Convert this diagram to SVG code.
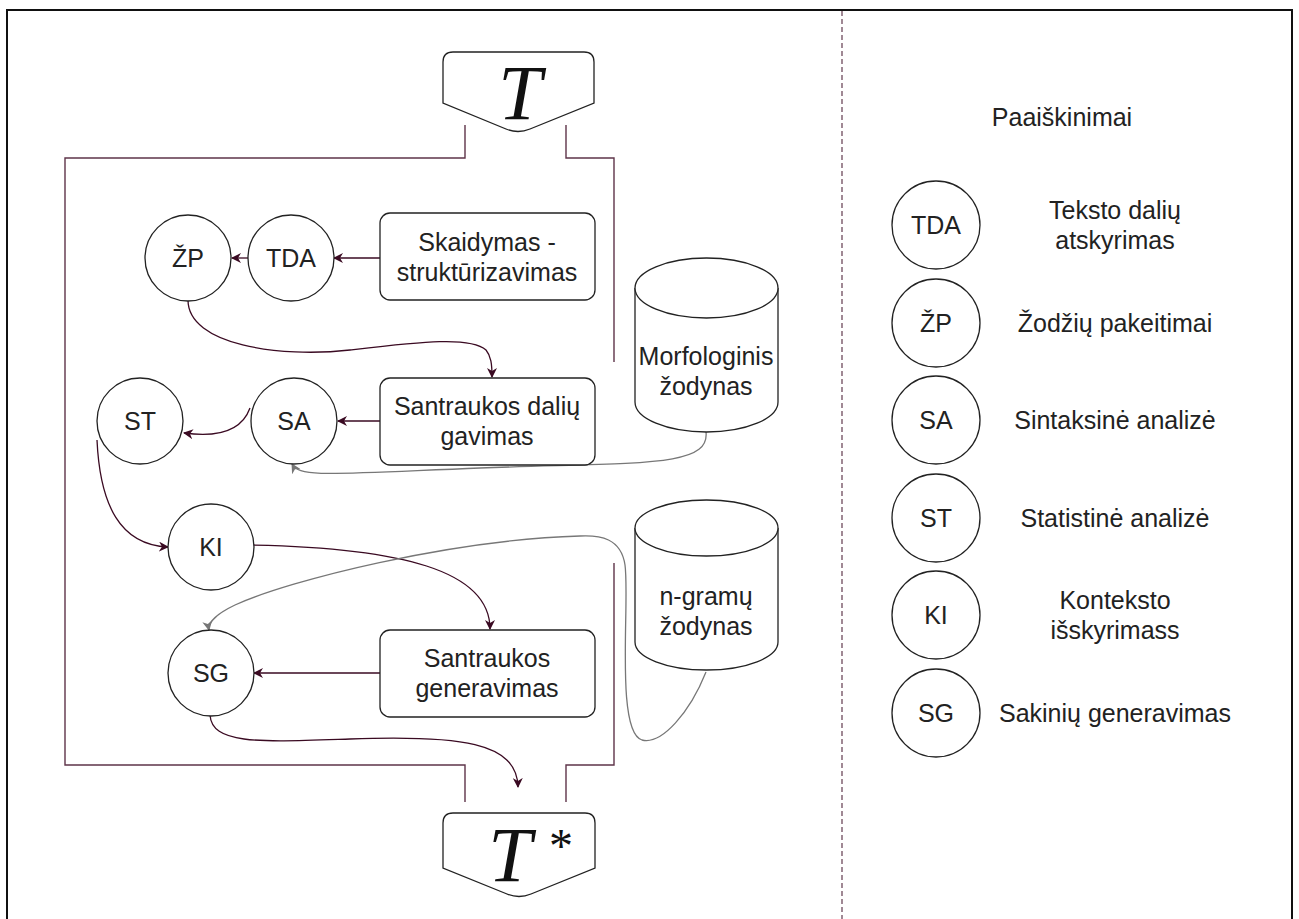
<svg xmlns="http://www.w3.org/2000/svg" width="1299" height="919" viewBox="0 0 1299 919">
  <style>
    .txt { font-family: "Liberation Sans", Arial, sans-serif; font-size: 25px; fill: #222; text-anchor: middle; dominant-baseline: central; }
    .math { font-family: "Liberation Serif", "Times New Roman", serif; font-style: italic; font-size: 78px; fill: #111; text-anchor: middle; }
    .star { font-family: "Liberation Serif", "Times New Roman", serif; font-size: 48px; fill: #111; text-anchor: middle; }
    .node { fill: #fff; stroke: #222; stroke-width: 1.3; }
    .frame { fill: none; stroke: #5e3449; stroke-width: 1.4; }
    .flow { fill: none; stroke: #3a0a22; stroke-width: 1.3; }
    .data { fill: none; stroke: #777; stroke-width: 1.3; }
  </style>
  <defs>
    <marker id="arrDark" viewBox="0 0 10 10" refX="9" refY="5" markerWidth="10" markerHeight="10" markerUnits="userSpaceOnUse" orient="auto">
      <path d="M0,0 L10,5 L0,10 L3,5 z" fill="#3a0a22"/>
    </marker>
    <marker id="arrGray" viewBox="0 0 10 10" refX="9" refY="5" markerWidth="10" markerHeight="10" markerUnits="userSpaceOnUse" orient="auto">
      <path d="M0,0 L10,5 L0,10 L3,5 z" fill="#777"/>
    </marker>
  </defs>

  <!-- page frame and legend divider -->
  <g id="page">
    <path d="M7,930 V10 H1292 V930" fill="none" stroke="#111" stroke-width="2"/>
    <line x1="842" y1="11" x2="842" y2="919" stroke="#6e4a5c" stroke-width="1.3" stroke-dasharray="5,3"/>
  </g>

  <!-- process boundary -->
  <g id="boundary">
    <path class="frame" d="M465,125 V158 H65 V765 H465 V802"/>
    <path class="frame" d="M566,125 V158 H614 V362"/>
    <path class="frame" d="M614,563 V765 H566 V802"/>
  </g>

  <!-- connectors -->
  <g id="connectors">
    <line class="flow" x1="380" y1="258" x2="334" y2="258" marker-end="url(#arrDark)"/>
    <line class="flow" x1="248" y1="258" x2="232" y2="258" marker-end="url(#arrDark)"/>
    <path class="flow" d="M188,300 C188,345 280,358 350,350 C420,342 470,336 486,350 C491,356 492,364 492,377" marker-end="url(#arrDark)"/>
    <line class="flow" x1="380" y1="421" x2="338" y2="421" marker-end="url(#arrDark)"/>
    <path class="flow" d="M250,408 C242,430 220,438 184,433" marker-end="url(#arrDark)"/>
    <path class="flow" d="M97,440 C100,505 120,545 168,547" marker-end="url(#arrDark)"/>
    <path class="flow" d="M252,545 C400,548 490,570 490,629" marker-end="url(#arrDark)"/>
    <line class="flow" x1="380" y1="673" x2="254" y2="673" marker-end="url(#arrDark)"/>
    <path class="flow" d="M210,715 C212,745 260,742 350,739 C460,735 517,742 518,787" marker-end="url(#arrDark)"/>
    <path class="data" d="M706,432 C710,468 640,462 480,468 C330,474 300,478 292,464" marker-end="url(#arrGray)"/>
    <path class="data" d="M706,672 C690,712 662,745 642,740 C615,732 630,600 625,565 C621,538 600,535 580,536 C450,540 290,580 235,605 C212,616 208,625 209,630" marker-end="url(#arrGray)"/>
  </g>

  <!-- input / output documents -->
  <g id="T">
    <path class="node" d="M453,52 H584 Q594,52 594,62 V103 L530,129 Q518,134 506,129 L443,103 V62 Q443,52 453,52 Z"/>
    <text class="math" x="520" y="119">T</text>
  </g>
  <g id="Tstar">
    <path class="node" d="M453,813 H585 Q595,813 595,823 V868 L531,894 Q519,899 507,894 L443,868 V823 Q443,813 453,813 Z"/>
    <text class="math" x="510" y="881">T</text>
    <text class="star" x="561" y="862">*</text>
  </g>

  <!-- process steps -->
  <g id="ZP"><circle class="node" cx="188" cy="258" r="43"/><text class="txt" x="188" y="258">ŽP</text></g>
  <g id="TDA"><circle class="node" cx="291" cy="258" r="43"/><text class="txt" x="291" y="258">TDA</text></g>
  <g id="skaidymas">
    <rect class="node" x="380" y="213" width="215" height="87" rx="10"/>
    <text class="txt" x="487" y="242">Skaidymas -</text>
    <text class="txt" x="487" y="272">struktūrizavimas</text>
  </g>
  <g id="santraukos-daliu">
    <rect class="node" x="380" y="378" width="215" height="87" rx="10"/>
    <text class="txt" x="487" y="406">Santraukos dalių</text>
    <text class="txt" x="487" y="436">gavimas</text>
  </g>
  <g id="SA"><circle class="node" cx="294" cy="421" r="43"/><text class="txt" x="294" y="421">SA</text></g>
  <g id="ST"><circle class="node" cx="140" cy="421" r="43"/><text class="txt" x="140" y="421">ST</text></g>
  <g id="KI"><circle class="node" cx="211" cy="547" r="43"/><text class="txt" x="211" y="547">KI</text></g>
  <g id="SG"><circle class="node" cx="211" cy="673" r="43"/><text class="txt" x="211" y="673">SG</text></g>
  <g id="santraukos-generavimas">
    <rect class="node" x="380" y="630" width="215" height="87" rx="10"/>
    <text class="txt" x="487" y="658">Santraukos</text>
    <text class="txt" x="487" y="688">generavimas</text>
  </g>

  <!-- dictionaries -->
  <g id="morfologinis">
    <path class="node" d="M635,288 A71.5,30 0 0 1 778,288 V402 A71.5,30 0 0 1 635,402 Z"/>
    <path class="node" fill="none" d="M635,288 A71.5,30 0 0 0 778,288"/>
    <text class="txt" x="706" y="356">Morfologinis</text>
    <text class="txt" x="706" y="386">žodynas</text>
  </g>
  <g id="ngramu">
    <path class="node" d="M635,528 A71.5,28 0 0 1 778,528 V642 A71.5,28 0 0 1 635,642 Z"/>
    <path class="node" fill="none" d="M635,528 A71.5,28 0 0 0 778,528"/>
    <text class="txt" x="706" y="596">n-gramų</text>
    <text class="txt" x="706" y="626">žodynas</text>
  </g>

  <!-- legend -->
  <g id="legend">
    <text class="txt" x="1062" y="117">Paaiškinimai</text>
    <g id="legend-TDA"><circle class="node" cx="936" cy="225" r="44"/><text class="txt" x="936" y="225">TDA</text>
      <text class="txt" x="1115" y="210">Teksto dalių</text><text class="txt" x="1115" y="240">atskyrimas</text></g>
    <g id="legend-ZP"><circle class="node" cx="936" cy="323" r="44"/><text class="txt" x="936" y="323">ŽP</text>
      <text class="txt" x="1115" y="323">Žodžių pakeitimai</text></g>
    <g id="legend-SA"><circle class="node" cx="936" cy="420" r="44"/><text class="txt" x="936" y="420">SA</text>
      <text class="txt" x="1115" y="420">Sintaksinė analizė</text></g>
    <g id="legend-ST"><circle class="node" cx="936" cy="518" r="44"/><text class="txt" x="936" y="518">ST</text>
      <text class="txt" x="1115" y="518">Statistinė analizė</text></g>
    <g id="legend-KI"><circle class="node" cx="936" cy="615" r="44"/><text class="txt" x="936" y="615">KI</text>
      <text class="txt" x="1115" y="600">Konteksto</text><text class="txt" x="1115" y="630">išskyrimass</text></g>
    <g id="legend-SG"><circle class="node" cx="936" cy="713" r="44"/><text class="txt" x="936" y="713">SG</text>
      <text class="txt" x="1115" y="713">Sakinių generavimas</text></g>
  </g>
</svg>
